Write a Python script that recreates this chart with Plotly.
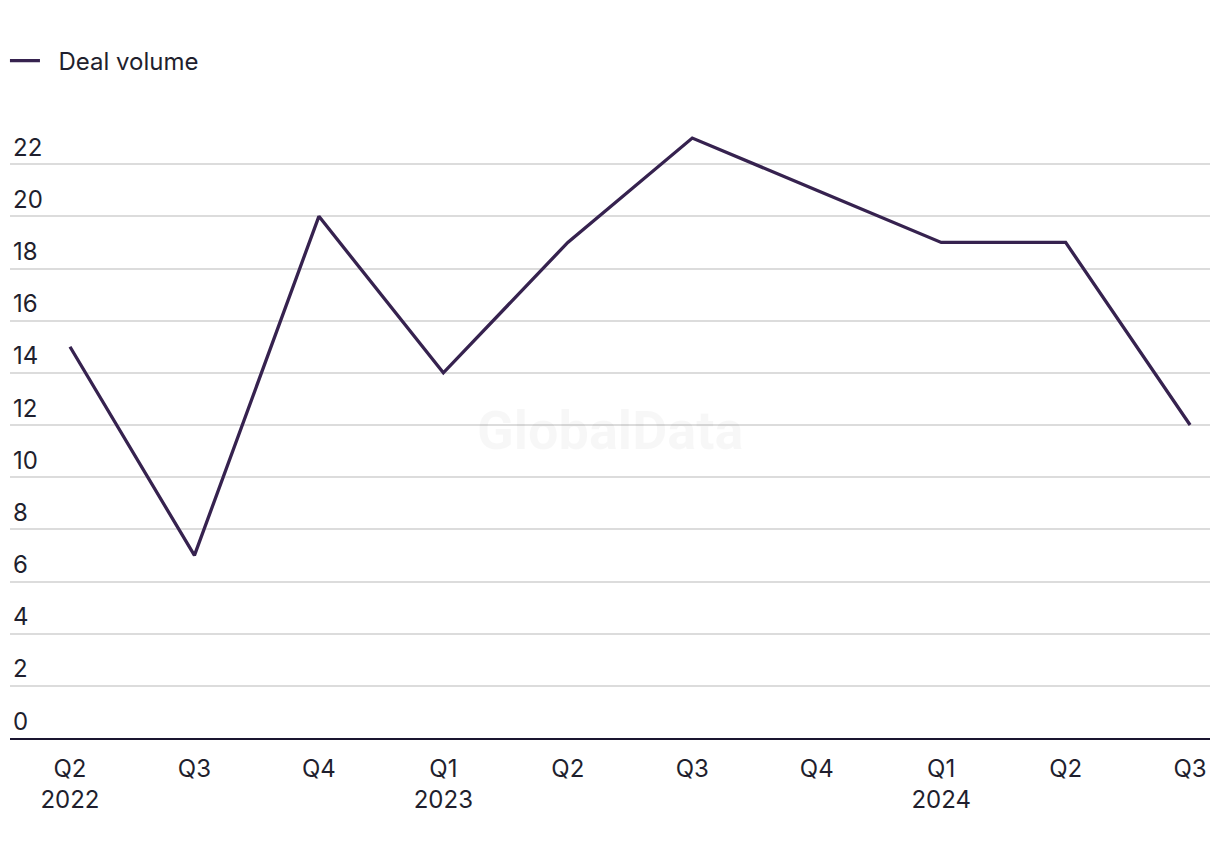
import plotly.graph_objects as go

quarters = ["Q2<br>2022", "Q3", "Q4", "Q1<br>2023", "Q2", "Q3", "Q4", "Q1<br>2024", "Q2", "Q3"]
deal_volume = [15, 7, 20, 14, 19, 23, 21, 19, 19, 12]
y_ticks = list(range(0, 24, 2))

FONT = "Inter"
FS = 24
x_idx = list(range(len(quarters)))

fig = go.Figure()
fig.add_trace(go.Scatter(
    x=x_idx, y=deal_volume, mode="lines", name="\u00a0\u00a0Deal volume",
    line=dict(color="#36224f", width=3.3),
))

# page body has an 8px default margin, so offsets compensate for it
fig.update_layout(
    width=1220, height=858,
    margin=dict(l=2, r=18, t=104, b=128, autoexpand=False),
    paper_bgcolor="white", plot_bgcolor="white",
    font=dict(family=FONT, size=FS, color="#1f1f2e"),
    showlegend=True,
    legend=dict(orientation="h", x=-0.0042, xanchor="left", y=1.0815, yanchor="middle",
                font=dict(size=FS, color="#1f1f2e"), itemwidth=30),
    xaxis=dict(
        range=[-0.482, 9.16], automargin=False,
        tickmode="array", tickvals=x_idx, ticktext=quarters,
        showgrid=False, zeroline=False,
        showline=True, linecolor="#1a1530", linewidth=2,
        ticks="", ticklabelstandoff=8,
        tickfont=dict(size=FS, color="#1f1f2e"),
    ),
    yaxis=dict(
        range=[0, 24], automargin=False,
        tickmode="array", tickvals=y_ticks,
        showgrid=True, gridcolor="#dcdcdc", gridwidth=1.5,
        zeroline=False, showline=False,
        ticklabelposition="inside top", ticks="", ticklabelstandoff=0,
        tickfont=dict(size=FS, color="#1f1f2e"),
    ),
)

fig.add_annotation(
    text="<b>GlobalData</b>", x=0.5, y=0.492, xref="paper", yref="paper",
    showarrow=False, font=dict(family="Roboto", size=54, color="rgba(0,0,0,0.03)"),
)

fig.write_html("out.html")
